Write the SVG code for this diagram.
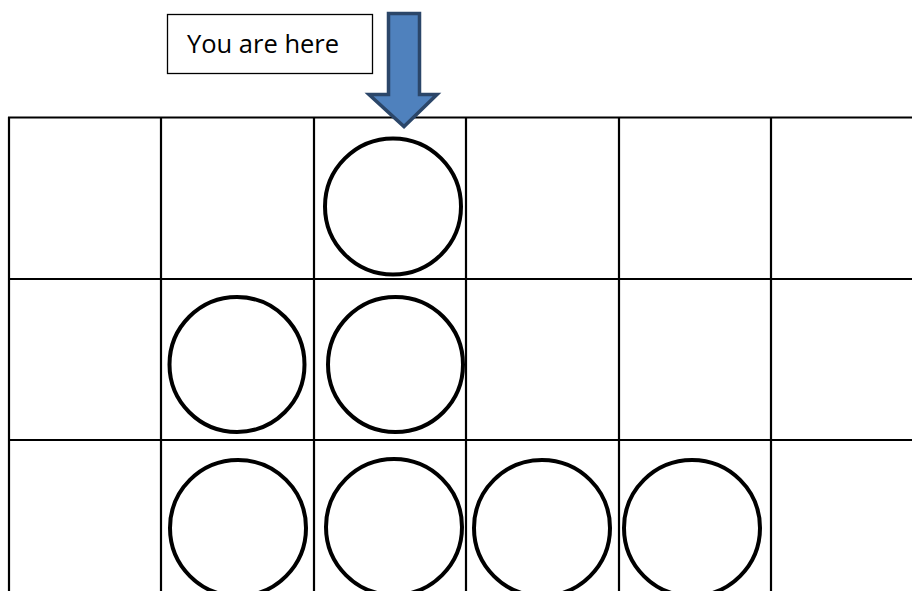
<svg xmlns="http://www.w3.org/2000/svg" width="912" height="591" viewBox="0 0 912 591">
<style>
.grid{stroke:#000;stroke-width:2.2;fill:none}
.ball{fill:none;stroke:#000;stroke-width:4}
.label{fill:#fff;stroke:#000;stroke-width:1.3}
.txt{font-family:"Open Sans","Noto Sans","Liberation Sans",sans-serif;font-size:25.5px;fill:#000}
.arrow{fill:#4F81BD;stroke:#2B4669;stroke-width:3.5;stroke-linejoin:miter}
</style>
<rect width="912" height="591" fill="#fff"/>
<g id="grid" class="grid">
<line x1="8" y1="117.5" x2="912" y2="117.5"/>
<line x1="8" y1="279" x2="912" y2="279"/>
<line x1="8" y1="440" x2="912" y2="440"/>
<line x1="9" y1="117" x2="9" y2="591"/>
<line x1="161" y1="117" x2="161" y2="591"/>
<line x1="314" y1="117" x2="314" y2="591"/>
<line x1="466" y1="117" x2="466" y2="591"/>
<line x1="619" y1="117" x2="619" y2="591"/>
<line x1="771" y1="117" x2="771" y2="591"/>
</g>
<g id="balls">
<circle id="b1" class="ball" cx="393" cy="206.5" r="68"/>
<circle id="b2" class="ball" cx="237" cy="364.5" r="67.5"/>
<circle id="b3" class="ball" cx="395.5" cy="364.5" r="67.5"/>
<circle id="b4" class="ball" cx="238" cy="528" r="68"/>
<circle id="b5" class="ball" cx="394" cy="527" r="68"/>
<circle id="b6" class="ball" cx="542" cy="528" r="68"/>
<circle id="b7" class="ball" cx="692" cy="528" r="68"/>
</g>
<g id="label">
<rect class="label" x="167.5" y="14.5" width="205" height="59"/>
<text class="txt" x="187" y="53">You are here</text>
</g>
<g id="connectors">
<path class="arrow" d="M388.5,13.5 H419.5 V94.5 H437 L404,126.5 L369,94.5 H388.5 Z"/>
</g>
</svg>
